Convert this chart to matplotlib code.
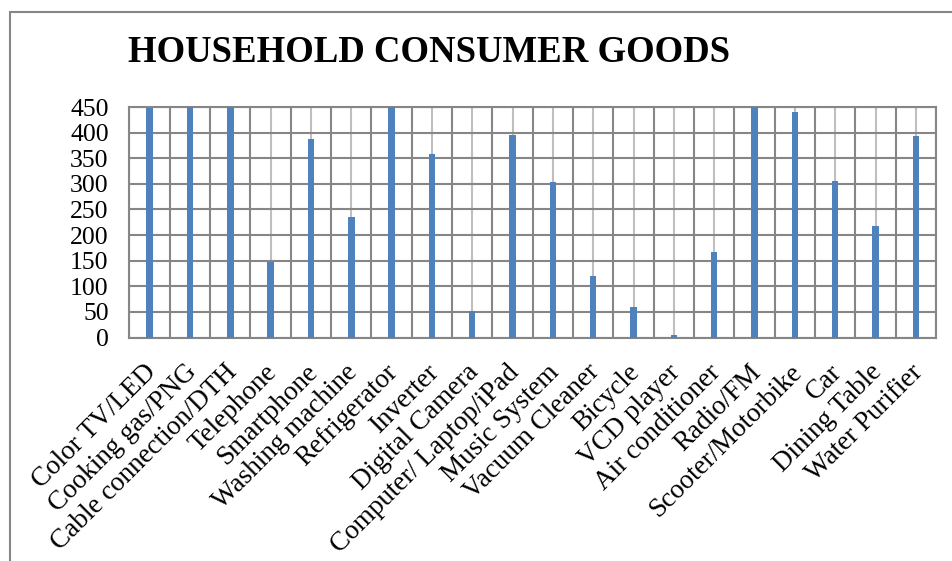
import numpy as np
import matplotlib.pyplot as plt
import matplotlib.transforms as mtransforms
from matplotlib.patches import Rectangle

categories = [
    "Color TV/LED", "Cooking gas/PNG", "Cable connection/DTH", "Telephone",
    "Smartphone", "Washing machine", "Refrigerator", "Inverter",
    "Digital Camera", "Computer/ Laptop/iPad", "Music System",
    "Vacuum Cleaner", "Bicycle", "VCD player", "Air conditioner",
    "Radio/FM", "Scooter/Motorbike", "Car", "Dining Table", "Water Purifier",
]
values = [448, 450, 450, 148, 388, 235, 450, 359, 52, 395,
          304, 120, 59, 5, 166, 450, 440, 305, 218, 393]
yticks = [0, 50, 100, 150, 200, 250, 300, 350, 400, 450]

plt.rcParams["font.family"] = ["Liberation Serif", "DejaVu Serif"]

fig = plt.figure(figsize=(9.53, 5.61), dpi=100)
ax = fig.add_axes([129.5 / 953, 1 - 337.5 / 561, (936 - 129.5) / 953, (337.5 - 107) / 561])

x = np.arange(len(categories))
ax.bar(x, values, width=0.16, color="#4F81BD", zorder=3)

ax.set_xlim(-0.5, len(categories) - 0.5)
ax.set_ylim(0, 450)
ax.set_yticks(yticks)
ax.set_yticklabels([str(v) for v in yticks], fontsize=18.5)

# light gridlines at category centres, darker at boundaries
for xi in x:
    ax.axvline(xi, color="#BFBFBF", lw=1.5, zorder=1)
for xb in np.arange(-0.5, len(categories), 1.0):
    ax.axvline(xb, color="#868686", lw=1.5, zorder=2)
for yv in yticks:
    ax.axhline(yv, color="#868686", lw=1.5, zorder=2)

ax.set_xticks(x)
ax.set_xticklabels(categories, rotation=45, ha="right", va="top",
                   rotation_mode="anchor", fontsize=19.5)
ax.tick_params(axis="both", length=0)
ax.tick_params(axis="x", pad=16)
ax.tick_params(axis="y", pad=15)
shift = mtransforms.ScaledTranslation(-6 / 100, 0, fig.dpi_scale_trans)
for lbl in ax.get_xticklabels():
    lbl.set_transform(lbl.get_transform() + shift)
for s in ax.spines.values():
    s.set_color("#868686")
    s.set_linewidth(1.5)

fig.text(128 / 953, 1 - 53 / 561, "HOUSEHOLD CONSUMER GOODS", fontsize=26.5,
         fontweight="bold", va="center", ha="left")

# outer chart frame (partly cut off)
fig.patches.append(Rectangle((10 / 953, -0.1), 1.2, 1 - 12 / 561 + 0.1,
                             transform=fig.transFigure, fill=False,
                             edgecolor="#868686", lw=1.5))

fig.savefig("out.png", dpi=100)
